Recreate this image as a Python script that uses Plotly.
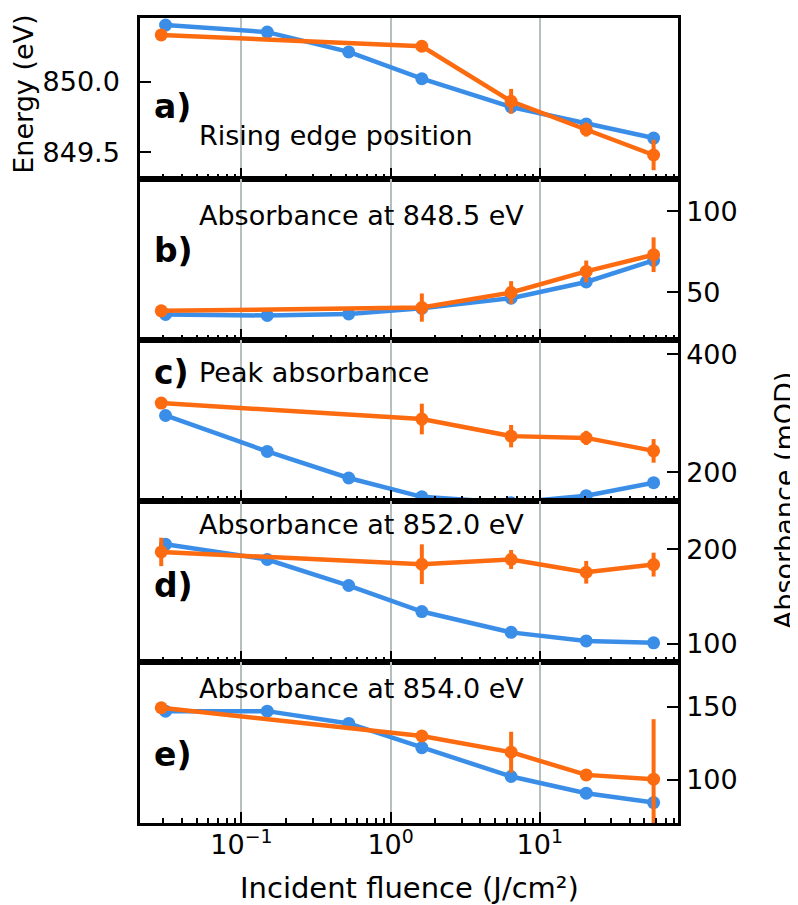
import plotly.graph_objects as go
from plotly.subplots import make_subplots

# ---------------- data ----------------
x_blue = [0.031, 0.149, 0.524, 1.62, 6.43, 20.5, 58.0]
x_orange = [0.029, 1.62, 6.43, 20.5, 58.0]

a_blue = [850.40, 850.35, 850.21, 850.02, 849.82, 849.70, 849.60]
a_orange = [850.33, 850.25, 849.86, 849.66, 849.48]
a_orange_err = [0.01, 0.02, 0.088, 0.05, 0.108]

b_blue = [36.5, 35.8, 36.8, 40.2, 46.5, 56.5, 69.8]
b_orange = [38.7, 40.7, 50.0, 63.0, 73.3]
b_orange_err = [2.0, 8.7, 7.0, 6.7, 10.7]

c_blue = [296, 235, 190, 158, 148, 160, 182]
c_orange = [317, 290, 261, 258, 236]
c_orange_err = [10, 26, 19, 12, 20]

d_blue = [205, 189, 161.5, 134, 112, 103, 101]
d_orange = [197, 184, 189, 175.5, 183.6]
d_orange_err = [15, 21, 10, 12, 12.6]

e_blue = [147, 147, 138.6, 122, 102.3, 90.9, 84.5]
e_orange = [149.3, 130, 118.9, 103.4, 100.5]
e_orange_err = [3, 3, 14, 3, 41]

panel_letters = ["a)", "b)", "c)", "d)", "e)"]
panel_titles = ["Rising edge position", "Absorbance at 848.5 eV", "Peak absorbance",
                "Absorbance at 852.0 eV", "Absorbance at 854.0 eV"]

y_ranges = [[849.31, 850.45], [20.7, 120], [151, 424], [80.7, 250.8], [70.5, 180.6]]
y_tickvals = [[849.5, 850.0], [50, 100], [200, 400], [100, 200], [100, 150]]
y_ticktext = [["849.5", "850.0"], ["50", "100"], ["200", "400"], ["100", "200"], ["100", "150"]]

x_tickvals = [0.1, 1, 10]
x_ticktext = ["10<sup>\u22121</sup>", "10<sup>0</sup>", "10<sup>1</sup>"]
x_minor = [m * 10.0 ** e for e in range(-2, 2) for m in range(2, 10)]

x_title = "Incident fluence (J/cm\u00b2)"
y_left_title = "Energy (eV)"
y_right_title = "Absorbance (mOD)"

# ---------------- style ----------------
BLUE = "#3b8ee8"
ORANGE = "#fd6b10"
GRID = "#b6bebe"
FONT = "DejaVu Sans"
FS = 27

W, H = 798, 905
L, R, T, B = 132, 128, 7, 90
PW = W - L - R
PH = H - T - B

def px_x(px):
    return (px - L) / PW

def px_y(py):
    return (H - B - py) / PH

series = [
    (a_blue, a_orange, a_orange_err),
    (b_blue, b_orange, b_orange_err),
    (c_blue, c_orange, c_orange_err),
    (d_blue, d_orange, d_orange_err),
    (e_blue, e_orange, e_orange_err),
]

fig = make_subplots(rows=5, cols=1, shared_xaxes=True, vertical_spacing=0)

for i, (yb, yo, eo) in enumerate(series):
    row = i + 1
    fig.add_trace(go.Scatter(x=x_blue, y=yb, mode="lines+markers",
                             line=dict(color=BLUE, width=4.5),
                             marker=dict(color=BLUE, size=13),
                             showlegend=False), row=row, col=1)
    fig.add_trace(go.Scatter(x=x_orange, y=yo, mode="lines+markers",
                             line=dict(color=ORANGE, width=4.5),
                             marker=dict(color=ORANGE, size=13),
                             error_y=dict(type="data", array=eo, color=ORANGE,
                                          thickness=4, width=0),
                             showlegend=False), row=row, col=1)

    fig.update_xaxes(type="log", range=[-1.680, 1.927],
                     tickmode="array", tickvals=x_tickvals, ticktext=x_ticktext,
                     showticklabels=(row == 5),
                     ticks="inside", ticklen=11, tickwidth=2, tickcolor="black",
                     showgrid=True, gridcolor=GRID, gridwidth=2,
                     minor=dict(tickmode="array", tickvals=x_minor, ticks="inside",
                                ticklen=5, tickwidth=1.5, tickcolor="black",
                                showgrid=False),
                     showline=True, linecolor="black", linewidth=2.5, mirror=True,
                     zeroline=False, ticklabelstandoff=-4,
                     tickfont=dict(family=FONT, size=FS, color="black"),
                     row=row, col=1)
    fig.update_yaxes(range=y_ranges[i], tickmode="array",
                     tickvals=y_tickvals[i], ticktext=y_ticktext[i],
                     side=("left" if row == 1 else "right"),
                     ticks="inside", ticklen=11, tickwidth=2, tickcolor="black",
                     showgrid=False, zeroline=False,
                     showline=True, linecolor="black", linewidth=2.5, mirror=True,
                     ticklabelstandoff=(12 if row == 1 else 0),
                     tickfont=dict(family=FONT, size=FS, color="black"),
                     row=row, col=1)

letter_y = [96, 240, 363, 577, 746]
title_y = [125, 205, 363, 515, 680]

ann = []
for i in range(5):
    ann.append(dict(text="<b>" + panel_letters[i] + "</b>", x=px_x(144), y=px_y(letter_y[i]),
                    xref="paper", yref="paper", xanchor="left", yanchor="middle",
                    showarrow=False, font=dict(family=FONT, size=33, color="black")))
    ann.append(dict(text=panel_titles[i], x=px_x(189), y=px_y(title_y[i]),
                    xref="paper", yref="paper", xanchor="left", yanchor="middle",
                    showarrow=False, font=dict(family=FONT, size=FS, color="black")))

ann.append(dict(text=y_left_title, x=px_x(16), y=px_y(84), xref="paper", yref="paper",
                xanchor="center", yanchor="middle", textangle=-90, showarrow=False,
                font=dict(family=FONT, size=FS, color="black")))
ann.append(dict(text=y_right_title, x=px_x(776), y=px_y(491), xref="paper", yref="paper",
                xanchor="center", yanchor="middle", textangle=-90, showarrow=False,
                font=dict(family=FONT, size=27, color="black")))
ann.append(dict(text=x_title, x=0.5, y=px_y(880), xref="paper", yref="paper",
                xanchor="center", yanchor="middle", showarrow=False,
                font=dict(family=FONT, size=29, color="black")))

fig.update_layout(width=W, height=H, margin=dict(l=L, r=R, t=T, b=B),
                  plot_bgcolor="white", paper_bgcolor="white",
                  font=dict(family=FONT, size=FS, color="black"),
                  annotations=ann, showlegend=False)

fig.write_html("out.html")
